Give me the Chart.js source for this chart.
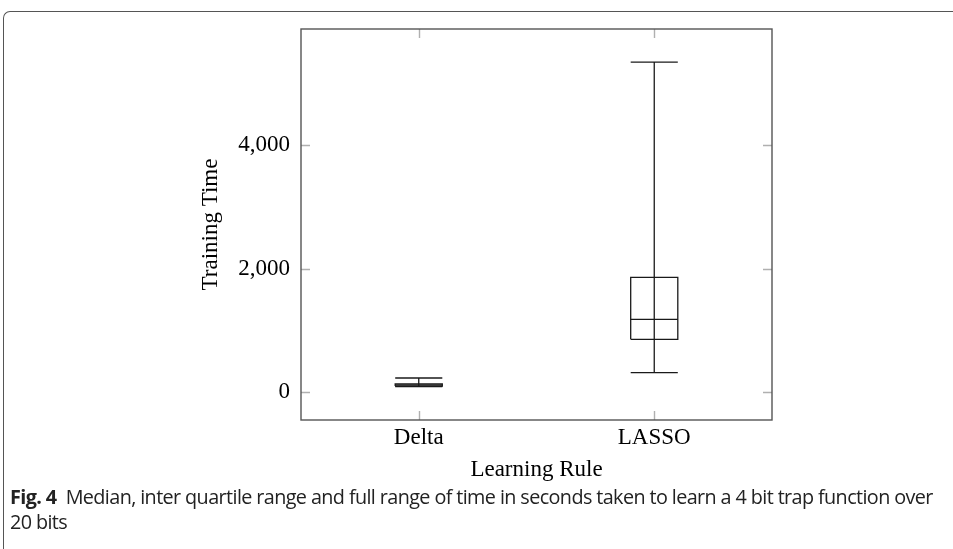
<!DOCTYPE html>
<html>
<head>
<meta charset="utf-8">
<script src="https://cdn.jsdelivr.net/npm/chart.js@4.4.0/dist/chart.umd.min.js"></script>
<style>
html,body{margin:0;padding:0;background:#fff;}
body{width:953px;height:549px;position:relative;overflow:hidden;}
#frame{position:absolute;left:3px;top:11px;width:980px;height:600px;border-top:1.5px solid #555;border-left:1.5px solid #555;border-top-left-radius:7px;}
#wrap{position:absolute;left:0;top:0;width:953px;height:490px;}
.cap{position:absolute;left:10px;font-family:"Open Sans",sans-serif;font-size:19.8px;letter-spacing:-0.6px;color:#222;white-space:nowrap;line-height:26px;}
.cap b{font-weight:700;}
</style>
</head>
<body>
<div id="frame"></div>
<div id="wrap"><canvas id="c" width="953" height="490"></canvas></div>
<div class="cap" style="top:484px"><b>Fig. 4</b>&nbsp; Median, inter quartile range and full range of time in seconds taken to learn a 4 bit trap function over</div>
<div class="cap" style="top:509px">20 bits</div>
<script>
// box plot values (seconds)
const categories = ["Delta", "LASSO"];
const whiskerLow = [89, 313];
const q1 = [97, 853];
const median = [113, 1177];
const q3 = [130, 1857];
const whiskerHigh = [227, 5344];
const yTicks = [0, 2000, 4000];

const boxHalf = 0.1;
const lineColor = "#1a1a1a";
const serif = "'Liberation Serif', 'DejaVu Serif', serif";

function seg(points){
    return {
        type: "scatter",
        data: points,
        showLine: true,
        borderColor: lineColor,
        borderWidth: 1.3,
        pointRadius: 0,
        fill: false
    };
}

let datasets = [];
categories.forEach((name, i) => {
    let x = i + 1;
    // whisker line through the box
    datasets.push(seg([{x: x, y: whiskerLow[i]}, {x: x, y: whiskerHigh[i]}]));
    datasets.push(seg([{x: x - boxHalf, y: whiskerLow[i]}, {x: x + boxHalf, y: whiskerLow[i]}]));
    datasets.push(seg([{x: x - boxHalf, y: whiskerHigh[i]}, {x: x + boxHalf, y: whiskerHigh[i]}]));
    // box
    let box = seg([
        {x: x - boxHalf, y: q1[i]}, {x: x + boxHalf, y: q1[i]},
        {x: x + boxHalf, y: q3[i]}, {x: x - boxHalf, y: q3[i]},
        {x: x - boxHalf, y: q1[i]}
    ]);
    box.backgroundColor = "#fff";
    box.fill = true;
    datasets.push(box);
    datasets.push(seg([{x: x - boxHalf, y: median[i]}, {x: x + boxHalf, y: median[i]}]));
});

// pgfplots style frame with inward ticks
const frameTicks = {
    id: "frameTicks",
    afterDatasetsDraw(chart){
        const {ctx, chartArea: a, scales: {x, y}} = chart;
        ctx.save();
        ctx.strokeStyle = "#b0b0b0";
        ctx.lineWidth = 1.4;
        ctx.beginPath();
        x.ticks.forEach(t => {
            let px = Math.round(x.getPixelForValue(t.value)) + 0.5;
            ctx.moveTo(px, a.bottom); ctx.lineTo(px, a.bottom - 9);
            ctx.moveTo(px, a.top); ctx.lineTo(px, a.top + 9);
        });
        y.ticks.forEach(t => {
            let py = Math.round(y.getPixelForValue(t.value)) + 0.5;
            ctx.moveTo(a.left, py); ctx.lineTo(a.left + 9, py);
            ctx.moveTo(a.right, py); ctx.lineTo(a.right - 9, py);
        });
        ctx.stroke();
        ctx.strokeStyle = "#555";
        ctx.lineWidth = 1.4;
        ctx.strokeRect(a.left, a.top, a.right - a.left, a.bottom - a.top);
        ctx.restore();
    }
};

new Chart(document.getElementById("c"), {
    type: "scatter",
    data: {datasets: datasets},
    plugins: [frameTicks],
    options: {
        responsive: false,
        animation: false,
        layout: {padding: {left: 0, top: 29, right: 181, bottom: 0}},
        plugins: {legend: {display: false}, tooltip: {enabled: false}},
        scales: {
            x: {
                type: "linear",
                min: 0.5,
                max: 2.5,
                afterBuildTicks: s => { s.ticks = categories.map((c, i) => ({value: i + 1})); },
                afterFit: s => { s.height = 70; },
                ticks: {
                    callback: v => categories[v - 1],
                    color: "#000",
                    font: {family: serif, size: 23},
                    padding: 4,
                    maxRotation: 0
                },
                grid: {display: false, drawTicks: false},
                border: {display: false},
                title: {
                    display: true,
                    text: "Learning Rule",
                    color: "#000",
                    font: {family: serif, size: 23},
                    padding: {top: 0, bottom: 6}
                }
            },
            y: {
                type: "linear",
                min: -453,
                max: 5879,
                afterBuildTicks: s => { s.ticks = yTicks.map(v => ({value: v})); },
                afterFit: s => { s.width = 301; },
                ticks: {
                    callback: v => v.toLocaleString("en-US"),
                    color: "#000",
                    font: {family: serif, size: 23},
                    padding: 11
                },
                grid: {display: false, drawTicks: false},
                border: {display: false},
                title: {
                    display: true,
                    text: "Training Time",
                    color: "#000",
                    font: {family: serif, size: 23},
                    padding: {top: 197, bottom: 0}
                }
            }
        }
    }
});
</script>
</body>
</html>
